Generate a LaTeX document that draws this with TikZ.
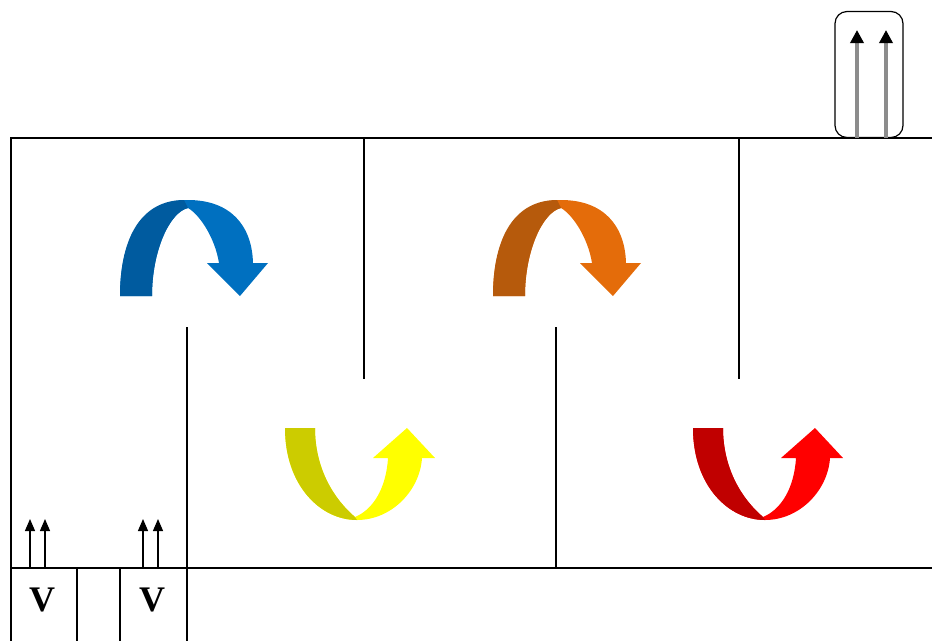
\documentclass[tikz,border=0pt]{standalone}
\usepackage{fontspec}
\setmainfont{Liberation Serif}
\usetikzlibrary{arrows.meta}
\definecolor{blueL}{HTML}{0070C0}
\definecolor{blueD}{HTML}{005B9F}
\definecolor{orangeL}{HTML}{E46C0A}
\definecolor{orangeD}{HTML}{B65A0C}
\definecolor{yellowL}{HTML}{FFFF00}
\definecolor{yellowD}{HTML}{CCCC00}
\definecolor{redL}{HTML}{FF0000}
\definecolor{redD}{HTML}{C00000}
\definecolor{shaftgray}{HTML}{8C8C8C}
\tikzset{
  wire/.style={line width=1.2pt, draw=black},
  upsmall/.style={line width=1.2pt, -{Triangle[length=12pt,width=10pt]}},
  upbig/.style={line width=3.5pt, draw=shaftgray, -{Triangle[length=13pt,width=13pt,color=black]}},
  vlabel/.style={font=\fontsize{36}{36}\selectfont\bfseries, inner sep=0pt},
  valve/.style={draw, line width=1.2pt, rounded corners=12pt, minimum width=68pt, minimum height=126pt, inner sep=0pt},
}
\newcommand{\archshape}[2]{%
  \fill[#1] (120,296) .. controls (120,235) and (145,200) .. (188,200) .. controls (230,200) and (252,225) .. (253,263) -- (268,263) -- (240,296) -- (207,263) -- (219,263) .. controls (215,238) and (200,215) .. (188,208) .. controls (170,212) and (152,250) .. (152,296) -- cycle;
  \fill[#2] (120,296) .. controls (120,235) and (143,200) .. (184,200) -- (188,208) .. controls (170,212) and (152,250) .. (152,296) -- cycle;
}
\newcommand{\ushape}[2]{%
  \fill[#1] (285,428) .. controls (285,485) and (320,520) .. (357,520) .. controls (392,520) and (420,490) .. (422,458) -- (435,458) -- (407,428) -- (373,458) -- (388,458) .. controls (386,490) and (372,510) .. (355,517) .. controls (335,500) and (315,470) .. (315,428) -- cycle;
  \fill[#2] (285,428) .. controls (285,485) and (320,520) .. (357,520) -- (355,517) .. controls (335,500) and (315,470) .. (315,428) -- cycle;
}
\begin{document}
\begin{tikzpicture}[x=1pt,y=-1pt]
\useasboundingbox (0,0) rectangle (932,641);
% coordinates
\coordinate (TL) at (11,138);
\coordinate (TR) at (932,138);
\coordinate (BL) at (11,568);
\coordinate (BR) at (932,568);
\coordinate (L0) at (11,641);
\coordinate (a1) at (364,138);
\coordinate (a2) at (364,379);
\coordinate (b1) at (739,138);
\coordinate (b2) at (739,379);
\coordinate (c1) at (187,327);
\coordinate (c2) at (187,641);
\coordinate (d1) at (556,327);
\coordinate (d2) at (556,568);
\coordinate (e1) at (77,568);
\coordinate (e2) at (77,641);
\coordinate (f1) at (120,568);
\coordinate (f2) at (120,641);
% frame
\draw[wire] (TR) -- (TL) -- (L0);
\draw[wire] (BL) -- (BR);
\draw[wire] (a1) -- (a2);
\draw[wire] (b1) -- (b2);
\draw[wire] (c1) -- (c2);
\draw[wire] (d1) -- (d2);
\draw[wire] (e1) -- (e2);
\draw[wire] (f1) -- (f2);
% labels
\node[vlabel] (v1) at (42,600) {V};
\node[vlabel] (v2) at (152,600) {V};
% small arrows
\coordinate (s1) at (30,568); \coordinate (s1t) at (30,519);
\coordinate (s2) at (45,568); \coordinate (s2t) at (45,519);
\coordinate (s3) at (143,568); \coordinate (s3t) at (143,519);
\coordinate (s4) at (158,568); \coordinate (s4t) at (158,519);
\draw[upsmall] (s1) -- (s1t);
\draw[upsmall] (s2) -- (s2t);
\draw[upsmall] (s3) -- (s3t);
\draw[upsmall] (s4) -- (s4t);
% top-right box
\node[valve] (box) at (869,74.5) {};
\coordinate (g1) at (857,138); \coordinate (g1t) at (857,30);
\coordinate (g2) at (886,138); \coordinate (g2t) at (886,30);
\draw[upbig] (g1) -- (g1t);
\draw[upbig] (g2) -- (g2t);
% curved arrows
\archshape{blueL}{blueD}
\begin{scope}[shift={(373,0)}]
\archshape{orangeL}{orangeD}
\end{scope}
\ushape{yellowL}{yellowD}
\begin{scope}[shift={(408,0)}]
\ushape{redL}{redD}
\end{scope}
\end{tikzpicture}
\end{document}
